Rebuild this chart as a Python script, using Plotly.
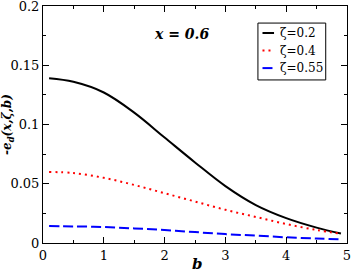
import plotly.graph_objects as go

b_vals = [0.1, 0.5, 1.0, 1.5, 2.0, 2.5, 3.0, 3.5, 4.0, 4.5, 4.9]
zeta_02 = [0.139, 0.136, 0.127, 0.110, 0.089, 0.068, 0.048, 0.032, 0.021, 0.013, 0.008]
zeta_04 = [0.060, 0.059, 0.055, 0.049, 0.042, 0.035, 0.028, 0.022, 0.016, 0.011, 0.0078]
zeta_055 = [0.0143, 0.0140, 0.0135, 0.0123, 0.011, 0.0092, 0.0075, 0.0062, 0.0048, 0.0038, 0.003]
names = ["ζ=0.2", "ζ=0.4", "ζ=0.55"]

FONT = "DejaVu Serif"

styles = [dict(color="black", width=2, dash="solid"),
          dict(color="red", width=2, dash="2px,4px"),
          dict(color="blue", width=2, dash="10px,4px")]

fig = go.Figure()
for ys, nm, st in zip([zeta_02, zeta_04, zeta_055], names, styles):
    fig.add_trace(go.Scatter(x=b_vals, y=ys, mode="lines", name=nm, showlegend=False,
                             line=dict(shape="spline", smoothing=1.0, **st)))

axis_common = dict(showgrid=False, zeroline=False, showline=True, linecolor="black",
                   linewidth=1, mirror="allticks", ticks="inside", ticklen=6,
                   tickcolor="black", ticklabeloverflow="allow", automargin=False,
                   tickfont=dict(family=FONT, size=13, color="black"))

fig.update_xaxes(range=[0, 5], dtick=1, tick0=0,
                 minor=dict(ticks="inside", ticklen=3, dtick=0.5, tickcolor="black"),
                 **axis_common)
fig.update_yaxes(range=[0, 0.2], dtick=0.05, tick0=0,
                 minor=dict(ticks="inside", ticklen=3, dtick=0.025, tickcolor="black"),
                 title=dict(text="<b><i>-e<sub>d</sub>(x,ζ,b)</i></b>",
                            font=dict(family=FONT, size=12, color="black"), standoff=6),
                 **axis_common)

fig.add_annotation(x=0.455, y=0.925, xref="paper", yref="paper",
                   text="<b><i>x = 0.6</i></b>", showarrow=False,
                   font=dict(family=FONT, size=14, color="black"))
fig.add_annotation(x=0.507, y=0, xref="paper", yref="paper", yshift=-21,
                   yanchor="middle", text="<b><i>b</i></b>", showarrow=False,
                   font=dict(family=FONT, size=15, color="black"))

# custom legend box (decoration, paper coordinates)
fig.add_shape(type="rect", xref="paper", yref="paper", x0=0.707, x1=0.930, y0=0.688, y1=0.928,
              line=dict(color="black", width=1), fillcolor="white", layer="above")
row_y = [0.886, 0.812, 0.738]
for ry, nm, st in zip(row_y, names, styles):
    fig.add_shape(type="line", xref="paper", yref="paper", x0=0.722, x1=0.760, y0=ry, y1=ry,
                  line=st, layer="above")
    fig.add_annotation(x=0.774, y=ry, xref="paper", yref="paper", xanchor="left",
                       yanchor="middle", text=nm, showarrow=False,
                       font=dict(family=FONT, size=12, color="black"))

fig.update_layout(
    width=354, height=273,
    autosize=False,
    margin=dict(l=43, r=7, t=6, b=30, autoexpand=False),
    font=dict(family=FONT),
    plot_bgcolor="white", paper_bgcolor="white",
    showlegend=False,
)

fig.write_html("out.html", config={"displayModeBar": False},
               post_script="document.body.style.margin='0';document.body.style.overflow='hidden';")
